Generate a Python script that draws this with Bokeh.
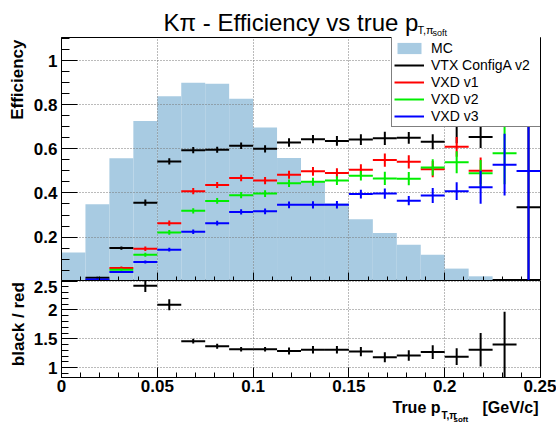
import math
from bokeh.plotting import figure
from bokeh.models import (ColumnDataSource, FixedTicker, CustomJSTickFormatter,
                          Label, Legend, LegendItem, Range1d)
from bokeh.layouts import column, row
from bokeh.embed import file_html
from bokeh.resources import INLINE

nan = float("nan")

# ---------------- data ----------------
bin_lo = [0.0, 0.0125, 0.025, 0.0375, 0.05, 0.0625, 0.075, 0.0875, 0.1, 0.1125,
          0.125, 0.1375, 0.15, 0.1625, 0.175, 0.1875, 0.2, 0.2125, 0.225, 0.2375]
bin_hi = [0.0125, 0.025, 0.0375, 0.05, 0.0625, 0.075, 0.0875, 0.1, 0.1125, 0.125,
          0.1375, 0.15, 0.1625, 0.175, 0.1875, 0.2, 0.2125, 0.225, 0.2375, 0.25]

mc = [0.130, 0.349, 0.557, 0.726, 0.839, 0.900, 0.895, 0.827, 0.697, 0.559,
      0.451, 0.353, 0.281, 0.218, 0.165, 0.120, 0.057, 0.022, 0.0, 0.0]

eff_vtx = [nan, 0.015, 0.150, 0.356, 0.543, 0.594, 0.596, 0.614, 0.600, 0.629,
           0.644, 0.636, 0.642, 0.648, 0.650, 0.632, 0.725, 0.654, 1.08, 0.335]
err_vtx = [nan, 0.005, 0.007, 0.014, 0.014, 0.014, 0.014, 0.015, 0.016, 0.019,
           0.019, 0.022, 0.024, 0.030, 0.027, 0.034, 0.100, 0.050, 0.100, 0.400]

eff_v1 = [nan, nan, 0.060, 0.147, 0.263, 0.408, 0.436, 0.468, 0.456, 0.483,
          0.498, 0.490, 0.505, 0.549, 0.541, 0.508, 0.609, 0.501, 0.800, nan]
err_v1 = [nan, nan, 0.006, 0.010, 0.012, 0.014, 0.014, 0.015, 0.016, 0.018,
          0.020, 0.022, 0.025, 0.030, 0.030, 0.037, 0.045, 0.060, 0.070, nan]

eff_v2 = [nan, nan, 0.052, 0.120, 0.221, 0.319, 0.364, 0.390, 0.397, 0.444,
          0.451, 0.456, 0.478, 0.466, 0.465, 0.516, 0.539, 0.489, 0.580, nan]
err_v2 = [nan, nan, 0.005, 0.009, 0.011, 0.012, 0.013, 0.014, 0.015, 0.017,
          0.018, 0.020, 0.022, 0.030, 0.030, 0.037, 0.050, 0.060, 0.140, nan]

eff_v3 = [nan, 0.007, 0.042, 0.087, 0.143, 0.224, 0.263, 0.314, 0.317, 0.346,
          0.346, 0.346, 0.395, 0.397, 0.365, 0.388, 0.408, 0.426, 0.528, 0.500]
err_v3 = [nan, 0.004, 0.004, 0.007, 0.009, 0.010, 0.011, 0.012, 0.013, 0.015,
          0.016, 0.017, 0.020, 0.023, 0.021, 0.034, 0.040, 0.075, 0.140, 0.600]

ratio = [nan, nan, nan, 2.42, 2.09, 1.46, 1.37, 1.32, 1.32, 1.29,
         1.31, 1.31, 1.28, 1.18, 1.21, 1.27, 1.19, 1.31, 1.40, nan]
err_ratio = [nan, nan, nan, 0.11, 0.095, 0.043, 0.043, 0.04, 0.04, 0.06,
             0.064, 0.065, 0.08, 0.087, 0.092, 0.12, 0.145, 0.29, 0.57, nan]

x_ticks = [0.0, 0.05, 0.1, 0.15, 0.2, 0.25]
eff_ticks = [0.2, 0.4, 0.6, 0.8, 1.0]
ratio_ticks = [1.0, 1.5, 2.0, 2.5]

series_names = ["VTX ConfigA v2", "VXD v1", "VXD v2", "VXD v3"]
series_colors = ["#000000", "#ff0000", "#00ee00", "#0000ff"]

# ---------------- style ----------------
FONT = "Liberation Sans"
MC_COLOR = "#a8cbe2"
GRID_COLOR = "#777777"
FRAME_W = 479
TITLE_W = 28          # column holding the rotated y titles
LEFT = 33             # border for the y tick labels
RIGHT = 16
TOTAL_W = TITLE_W + LEFT + FRAME_W + RIGHT   # 556
TOP_H = 37
P1_H = 243
P2_FRAME_H = 97
P2_BOTTOM = 22
P2_H = P2_FRAME_H + P2_BOTTOM
XT_H = 34
XT_OVERLAP = 8

fmt = CustomJSTickFormatter(code="return String(+tick.toFixed(4));")
blank_fmt = CustomJSTickFormatter(code="return '';")

x_minor = [round(0.01 * i, 4) for i in range(0, 26)]
eff_minor = [round(0.05 * i, 4) for i in range(0, 23)]
ratio_minor = [round(0.8 + 0.1 * i, 4) for i in range(0, 18)]


def style_axes(p, xtick_in, xminor_in, ytick_in, yminor_in, show_x_labels):
    for ax in p.xaxis:
        ax.ticker = FixedTicker(ticks=x_ticks, minor_ticks=x_minor)
        ax.major_tick_in = xtick_in
        ax.major_tick_out = 0
        ax.minor_tick_in = xminor_in
        ax.minor_tick_out = 0
        ax.axis_line_color = "black"
        ax.major_tick_line_color = "black"
        ax.minor_tick_line_color = "black"
        if show_x_labels:
            ax.formatter = fmt
            ax.major_label_text_font = FONT
            ax.major_label_text_font_style = "bold"
            ax.major_label_text_font_size = "17px"
            ax.major_label_text_color = "black"
            ax.major_label_standoff = 2
        else:
            ax.formatter = blank_fmt
            ax.major_label_text_font_size = "0px"
            ax.major_label_standoff = 0
    for ax in p.yaxis:
        ax.formatter = fmt
        ax.major_tick_in = ytick_in
        ax.major_tick_out = 0
        ax.minor_tick_in = yminor_in
        ax.minor_tick_out = 0
        ax.axis_line_color = "black"
        ax.major_tick_line_color = "black"
        ax.minor_tick_line_color = "black"
        ax.major_label_text_font = FONT
        ax.major_label_text_font_style = "bold"
        ax.major_label_text_font_size = "17px"
        ax.major_label_text_color = "black"
        ax.major_label_standoff = 4
    p.xgrid.ticker = FixedTicker(ticks=x_ticks)
    for g in (p.xgrid, p.ygrid):
        g.grid_line_color = GRID_COLOR
        g.grid_line_dash = "1 2"
        g.grid_line_width = 1
    p.outline_line_color = "black"
    p.outline_line_width = 1


def crosses(p, y, err, color):
    d = dict(x0=[], x1=[], xc=[], y=[], yl=[], yh=[])
    for lo, hi, v, e in zip(bin_lo, bin_hi, y, err):
        if v is None or math.isnan(v):
            continue
        d["x0"].append(lo)
        d["x1"].append(hi)
        d["xc"].append(0.5 * (lo + hi))
        d["y"].append(v)
        d["yl"].append(v - e)
        d["yh"].append(v + e)
    src = ColumnDataSource(d)
    h = p.segment(x0="x0", y0="y", x1="x1", y1="y", source=src,
                  line_color=color, line_width=2)
    v = p.segment(x0="xc", y0="yl", x1="xc", y1="yh", source=src,
                  line_color=color, line_width=2)
    return h, v


def text_fig(w, h, transparent=False):
    f = figure(width=w, height=h, x_range=Range1d(0, w), y_range=Range1d(0, h),
               output_backend="svg", toolbar_location=None,
               x_axis_type=None, y_axis_type=None,
               min_border_left=0, min_border_right=0,
               min_border_top=0, min_border_bottom=0)
    f.outline_line_color = None
    if transparent:
        f.background_fill_alpha = 0
        f.border_fill_alpha = 0
    return f


def txt(f, x, y, s, size, bold=False, align="left", angle=0.0,
        baseline="alphabetic"):
    f.add_layout(Label(x=x, y=y, text=s, text_font=FONT,
                       text_font_size=size,
                       text_font_style="bold" if bold else "normal",
                       text_color="black", text_align=align,
                       text_baseline=baseline, angle=angle))


# ---------------- title strip ----------------
title_fig = text_fig(TOTAL_W, TOP_H)
txt(title_fig, 163, 15, "K\u03c0 - Efficiency vs true p", "24px")
txt(title_fig, 417, 8, "T,\u03c0", "11px")
txt(title_fig, 432, 5, "soft", "9px")

# ---------------- top panel ----------------
p1 = figure(frame_width=FRAME_W, frame_height=P1_H,
            x_range=Range1d(0, 0.25), y_range=Range1d(0.003, 1.105),
            output_backend="svg", toolbar_location=None,
            min_border_left=LEFT, min_border_right=RIGHT,
            min_border_top=0, min_border_bottom=0)
p1.yaxis.ticker = FixedTicker(ticks=eff_ticks, minor_ticks=eff_minor)
style_axes(p1, 8, 4, 16, 8, False)

r_mc = p1.quad(left=bin_lo, right=bin_hi, bottom=0, top=mc,
               fill_color=MC_COLOR, line_color=None, level="image")

legend_items = [LegendItem(label="MC", renderers=[r_mc])]
tick_items = [LegendItem(label=" ", renderers=[
    p1.scatter(x=[], y=[], marker="cross", size=0, line_alpha=0,
               fill_alpha=0)])]
for yv, ev, col, name in zip([eff_vtx, eff_v1, eff_v2, eff_v3],
                             [err_vtx, err_v1, err_v2, err_v3],
                             series_colors, series_names):
    h, v = crosses(p1, yv, ev, col)
    legend_items.append(LegendItem(label=name, renderers=[h]))
    mk = p1.scatter(x=[], y=[], marker="cross", size=9, line_color=col,
                    line_width=2)
    tick_items.append(LegendItem(label=" ", renderers=[mk]))

LEG_KW = dict(location=(330, 153), glyph_width=30, label_height=17,
              label_width=123, label_standoff=7, spacing=0, padding=2,
              margin=0, label_text_font=FONT, label_text_font_size="14px",
              label_text_color="black")
leg = Legend(items=legend_items, glyph_height=14,
             border_line_color="black", border_line_width=1,
             background_fill_color="white", background_fill_alpha=1.0,
             **LEG_KW)
p1.add_layout(leg)
# transparent overlay legend adding the vertical error ticks of the crosses
leg_ticks = Legend(items=tick_items, glyph_height=17,
                   border_line_color=None, background_fill_alpha=0.0,
                   **LEG_KW)
p1.add_layout(leg_ticks)

ytitle1 = text_fig(TITLE_W, P1_H)
txt(ytitle1, 17, P1_H - 2, "Efficiency", "17px", bold=True, align="right",
    angle=math.pi / 2, baseline="middle")

# ---------------- ratio panel ----------------
p2 = figure(frame_width=FRAME_W, frame_height=P2_FRAME_H,
            x_range=p1.x_range, y_range=Range1d(0.83, 2.51),
            output_backend="svg", toolbar_location=None,
            min_border_left=LEFT, min_border_right=RIGHT,
            min_border_top=0, min_border_bottom=P2_BOTTOM)
p2.yaxis.ticker = FixedTicker(ticks=ratio_ticks, minor_ticks=ratio_minor)
style_axes(p2, 10, 5, 16, 7, True)
crosses(p2, ratio, err_ratio, "#000000")

ytitle2 = text_fig(TITLE_W, P2_H)
txt(ytitle2, 18, P2_H - 2, "black / red", "17px", bold=True, align="right",
    angle=math.pi / 2, baseline="middle")

# ---------------- x title strip (overlaps the tick label band) ----------------
xt = text_fig(TOTAL_W, XT_H, transparent=True)
xt.margin = (-XT_OVERLAP, 0, 0, 0)
txt(xt, 440, 18, "True p", "16px", bold=True, align="right")
txt(xt, 441, 10, "T,\u03c0", "10px", bold=True)
txt(xt, 453, 6, "soft", "8px", bold=True)
txt(xt, 538, 18, "[GeV/c]", "16px", bold=True, align="right")

layout = column(title_fig,
                row(ytitle1, p1, spacing=0),
                row(ytitle2, p2, spacing=0),
                xt, spacing=0)
open("out.html", "w").write(file_html(layout, INLINE))
